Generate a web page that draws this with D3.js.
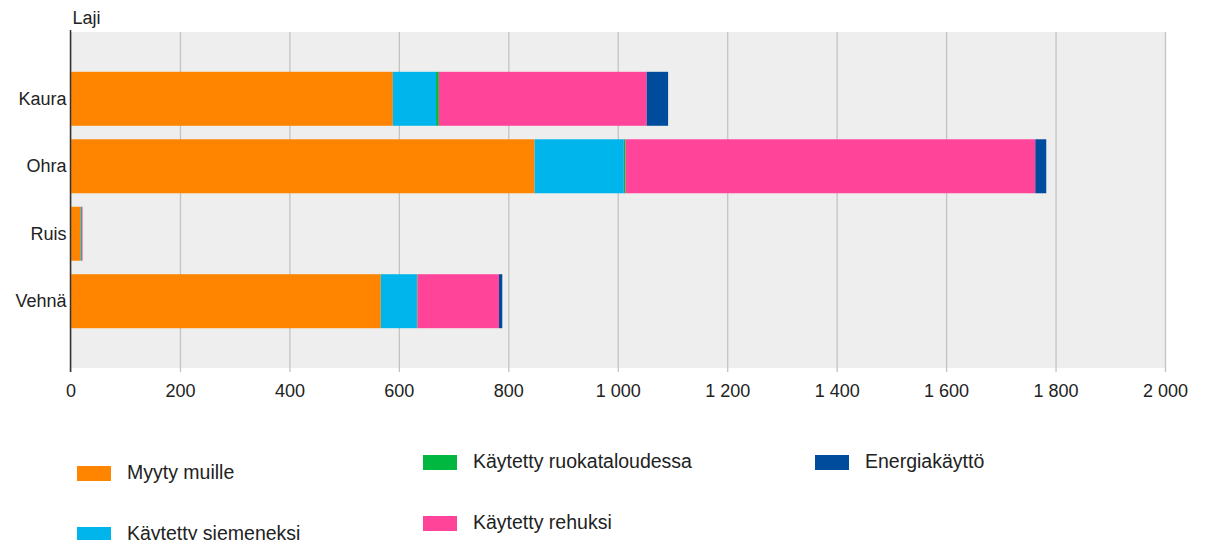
<!DOCTYPE html>
<html>
<head>
<meta charset="utf-8">
<script src="https://cdn.jsdelivr.net/npm/d3@7"></script>
<style>
  body { margin: 0; background: #fff; }
  text { font-family: "Liberation Sans", Arial, sans-serif; fill: #222; }
</style>
</head>
<body>
<div id="chart"></div>
<script>
width = 1206;
height = 540;
margins = {left: 70.5, right: 41, top: 32, bottom: 172};

// data
categories = ["Kaura", "Ohra", "Ruis", "Vehnä"];
seriesNames = ["Myyty muille", "Käytetty siemeneksi", "Käytetty ruokataloudessa", "Käytetty rehuksi", "Energiakäyttö"];
seriesColors = ["#ff8400", "#00b5ec", "#00b83f", "#ff4499", "#004c9c"];
myytyMuille = [589, 848, 19, 567];
siemeneksi = [79, 163, 2, 66];
ruokataloudessa = [5, 3, 0, 1];
rehuksi = [380, 749, 1, 149];
energia = [39, 20, 0, 6];
xTicks = [0, 200, 400, 600, 800, 1000, 1200, 1400, 1600, 1800, 2000];
yTitle = "Laji";

var seriesValues = [myytyMuille, siemeneksi, ruokataloudessa, rehuksi, energia];
var rows = categories.map(function(c, i) {
    var r = {laji: c};
    seriesNames.forEach(function(s, j) { r[s] = seriesValues[j][i]; });
    return r;
});
var stacked = d3.stack().keys(seriesNames)(rows);

var xScale = d3.scaleLinear().domain([0, 2000]).range([margins.left, width - margins.right]);
var yScale = d3.scaleBand().domain(categories)
    .range([margins.top, height - margins.bottom])
    .paddingInner(0.2).paddingOuter(0.59);

var svg = d3.select("#chart").append("svg")
    .attr("width", width)
    .attr("height", height);

// plot background
svg.append("rect")
    .attr("x", xScale(0))
    .attr("y", margins.top)
    .attr("width", xScale(2000) - xScale(0))
    .attr("height", height - margins.bottom - margins.top)
    .attr("fill", "#eeeeee");

// grid lines + x axis
var xAxis = d3.axisBottom(xScale).tickValues(xTicks).tickSize(-(height - margins.bottom - margins.top) - 4)
    .tickFormat(d => d >= 1000 ? String(Math.floor(d / 1000)) + " " + String(d % 1000).padStart(3, "0") : String(d));
var gx = svg.append("g")
    .attr("transform", "translate(0," + (height - margins.bottom + 4) + ")")
    .call(xAxis);
gx.select(".domain").remove();
gx.selectAll(".tick line").attr("stroke", "#c3c3c3").attr("stroke-width", 1.3);
gx.selectAll(".tick text").attr("y", 12).attr("dy", "0.71em").attr("font-size", 18)
    .attr("font-family", "'Liberation Sans', Arial, sans-serif").attr("fill", "#222");

// bars
svg.append("g").selectAll("g")
    .data(stacked)
    .enter()
    .append("g")
    .attr("fill", (d, i) => seriesColors[i])
    .selectAll("rect")
    .data(d => d)
    .enter()
    .append("rect")
    .attr("x", d => xScale(d[0]))
    .attr("y", d => yScale(d.data.laji))
    .attr("width", d => Math.max(0, xScale(d[1]) - xScale(d[0])))
    .attr("height", yScale.bandwidth());

// y axis
var yAxis = d3.axisLeft(yScale).tickSize(0).tickPadding(4);
var gy = svg.append("g")
    .attr("transform", "translate(" + margins.left + ",0)")
    .call(yAxis);
gy.select(".domain").remove();
gy.selectAll(".tick text").attr("font-size", 18)
    .attr("font-family", "'Liberation Sans', Arial, sans-serif").attr("fill", "#222");
svg.append("line")
    .attr("x1", margins.left).attr("x2", margins.left)
    .attr("y1", margins.top - 2).attr("y2", height - margins.bottom + 4)
    .attr("stroke", "#333").attr("stroke-width", 1.5);

svg.append("text")
    .attr("x", margins.left + 2)
    .attr("y", 24)
    .attr("font-size", 18)
    .text(yTitle);

// legend
var legendCols = [[0, 1], [2, 3], [4]];
var colX = [77, 423, 815];
var colY = [466, 455, 455];
legendCols.forEach(function(col, ci) {
    col.forEach(function(si, ri) {
        var g = svg.append("g")
            .attr("transform", "translate(" + colX[ci] + "," + (colY[ci] + ri * 61) + ")");
        g.append("rect").attr("width", 34).attr("height", 15).attr("fill", seriesColors[si]);
        g.append("text").attr("x", 50).attr("y", 13).attr("font-size", 19.5).text(seriesNames[si]);
    });
});
</script>
</body>
</html>
